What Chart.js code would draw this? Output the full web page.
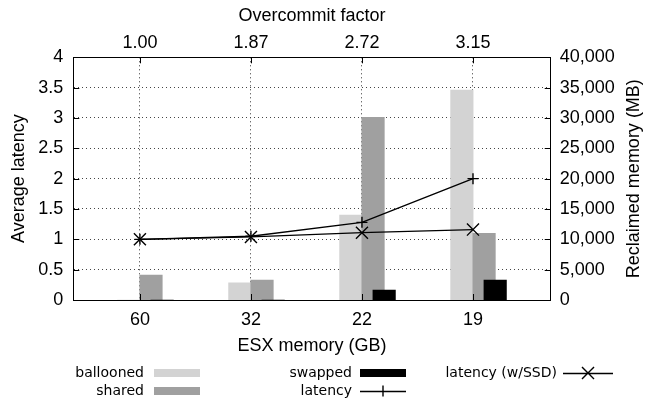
<!DOCTYPE html>
<html lang="en">
<head>
<meta charset="UTF-8">
<title>Reclaimed memory and latency vs ESX memory</title>
<script src="https://cdn.jsdelivr.net/npm/chart.js"></script>
<style>
  body { margin: 0; background: #fff; }
  #wrap { width: 645px; height: 404px; }
</style>
</head>
<body>
<div id="wrap"><canvas id="chart" width="645" height="404"></canvas></div>
<script>
  // categories (bottom axis) and overcommit factor (top axis)
  const esxMemory = ['60', '32', '22', '19'];
  const overcommit = ['1.00', '1.87', '2.72', '3.15'];

  // reclaimed memory in MB (right axis)
  const ballooned = [0, 2850, 14000, 34600];
  const shared = [4100, 3300, 30100, 11000];
  const swapped = [0, 0, 1650, 3300];

  // average latency (left axis)
  const latency = [1.0, 1.05, 1.28, 2.0];
  const latencySsd = [1.0, 1.04, 1.11, 1.16];

  const tickFont = { family: 'Liberation Sans', size: 18 };
  const legendFont = '14px "DejaVu Sans"';

  // each bar series sits at a fixed offset from its category
  function atSlot(values, offset) {
    return values.map((v, i) => ({ x: i + offset, y: v }));
  }

  function onlyCategories(scale) {
    scale.ticks = esxMemory.map((_, i) => ({ value: i }));
  }

  // gnuplot-style: inward tick marks, rotated right title, key below the plot
  const extras = {
    id: 'extras',
    afterDraw(chart) {
      const ctx = chart.ctx;
      const a = chart.chartArea;
      const s = chart.scales;
      ctx.save();
      ctx.strokeStyle = '#000';
      ctx.lineWidth = 1;
      ctx.beginPath();
      s.y.ticks.forEach(t => {
        const py = Math.round(s.y.getPixelForValue(t.value)) + 0.5;
        ctx.moveTo(a.left, py); ctx.lineTo(a.left + 6, py);
        ctx.moveTo(a.right, py); ctx.lineTo(a.right - 6, py);
      });
      s.x.ticks.forEach(t => {
        const px = Math.round(s.x.getPixelForValue(t.value)) + 0.5;
        ctx.moveTo(px, a.bottom); ctx.lineTo(px, a.bottom - 6);
        ctx.moveTo(px, a.top); ctx.lineTo(px, a.top + 6);
      });
      ctx.stroke();

      // right axis title reads bottom to top
      ctx.fillStyle = '#000';
      ctx.font = '18px "Liberation Sans"';
      ctx.textAlign = 'center';
      ctx.textBaseline = 'middle';
      ctx.translate(634, (a.top + a.bottom) / 2);
      ctx.rotate(-Math.PI / 2);
      ctx.fillText('Reclaimed memory (MB)', 0, 0);
      ctx.restore();

      // key
      const slots = [
        { ds: 0, right: 144, x: 154, w: 46, y: 373 },
        { ds: 1, right: 144, x: 154, w: 46, y: 391 },
        { ds: 2, right: 352, x: 360, w: 46, y: 373 },
        { ds: 3, right: 352, x: 360, w: 46, y: 391 },
        { ds: 4, right: 557, x: 563, w: 50, y: 373 }
      ];
      ctx.save();
      ctx.font = legendFont;
      ctx.textAlign = 'right';
      ctx.textBaseline = 'middle';
      slots.forEach(k => {
        const d = chart.data.datasets[k.ds];
        ctx.fillStyle = '#000';
        ctx.fillText(d.label, k.right, k.y);
        if (d.type === 'line') {
          const cx = k.x + k.w / 2;
          ctx.strokeStyle = d.borderColor;
          ctx.lineWidth = d.borderWidth;
          ctx.beginPath();
          ctx.moveTo(k.x, k.y + 0.5); ctx.lineTo(k.x + k.w, k.y + 0.5);
          if (d.pointStyle === 'cross') {
            ctx.moveTo(cx, k.y - d.pointRadius); ctx.lineTo(cx, k.y + d.pointRadius);
          } else {
            const r = d.pointRadius * Math.SQRT1_2;
            ctx.moveTo(cx - r, k.y - r); ctx.lineTo(cx + r, k.y + r);
            ctx.moveTo(cx + r, k.y - r); ctx.lineTo(cx - r, k.y + r);
          }
          ctx.stroke();
        } else {
          ctx.fillStyle = d.backgroundColor;
          ctx.fillRect(k.x, k.y - 4, k.w, 8);
        }
      });
      ctx.restore();
    }
  };

  new Chart(document.getElementById('chart').getContext('2d'), {
    type: 'bar',
    data: {
      datasets: [
        { label: 'ballooned', data: atSlot(ballooned, -0.1), backgroundColor: '#d3d3d3', yAxisID: 'y1', order: 3 },
        { label: 'shared', data: atSlot(shared, 0.1), backgroundColor: '#a0a0a0', yAxisID: 'y1', order: 2 },
        { label: 'swapped', data: atSlot(swapped, 0.2), backgroundColor: '#000000', yAxisID: 'y1', order: 1 },
        {
          type: 'line', label: 'latency', data: atSlot(latency, 0), yAxisID: 'y', order: 0,
          borderColor: '#000', borderWidth: 1.4, pointStyle: 'cross', pointRadius: 5.5,
          pointBorderWidth: 1.4, pointBorderColor: '#000', fill: false, tension: 0
        },
        {
          type: 'line', label: 'latency (w/SSD)', data: atSlot(latencySsd, 0), yAxisID: 'y', order: 0,
          borderColor: '#000', borderWidth: 1.4, pointStyle: 'crossRot', pointRadius: 8.5,
          pointBorderWidth: 1.4, pointBorderColor: '#000', fill: false, tension: 0
        }
      ]
    },
    options: {
      responsive: false,
      animation: false,
      layout: { padding: { bottom: 47 } },
      datasets: { bar: { grouped: false, barThickness: 22.5 } },
      plugins: { legend: { display: false }, tooltip: { enabled: false } },
      scales: {
        x: {
          type: 'linear', position: 'bottom', min: -0.6, max: 3.7, offset: false,
          afterBuildTicks: onlyCategories,
          afterFit: s => { s.height = 57; },
          ticks: { font: tickFont, color: '#000', padding: 9, callback: v => esxMemory[v] },
          grid: { color: '#333', drawTicks: false, offset: false },
          border: { color: '#000', width: 1, dash: [1, 3] },
          title: { display: true, text: 'ESX memory (GB)', font: tickFont, color: '#000', padding: 0 }
        },
        x2: {
          type: 'linear', position: 'top', min: -0.6, max: 3.7, offset: false,
          afterBuildTicks: onlyCategories,
          afterFit: s => { s.height = 57.3; },
          ticks: { font: tickFont, color: '#000', padding: 3, callback: v => overcommit[v] },
          grid: { display: false, drawTicks: false, offset: false },
          border: { color: '#000', width: 1 },
          title: { display: true, text: 'Overcommit factor', font: tickFont, color: '#000', padding: { top: 5 } }
        },
        y: {
          position: 'left', min: 0, max: 4,
          afterFit: s => { s.width = 73.3; },
          ticks: { stepSize: 0.5, font: tickFont, color: '#000', padding: 10, callback: v => String(+v.toFixed(2)) },
          grid: { color: '#444', drawTicks: false },
          border: { color: '#000', width: 1, dash: [1, 3] },
          title: { display: true, text: 'Average latency', font: tickFont, color: '#000', padding: { top: 8 } }
        },
        y1: {
          position: 'right', min: 0, max: 40000,
          afterFit: s => { s.width = 94.3; },
          ticks: { stepSize: 5000, font: tickFont, color: '#000', padding: 9 },
          grid: { display: false, drawTicks: false },
          border: { color: '#000', width: 1 }
        }
      }
    },
    plugins: [extras]
  });
</script>
</body>
</html>
